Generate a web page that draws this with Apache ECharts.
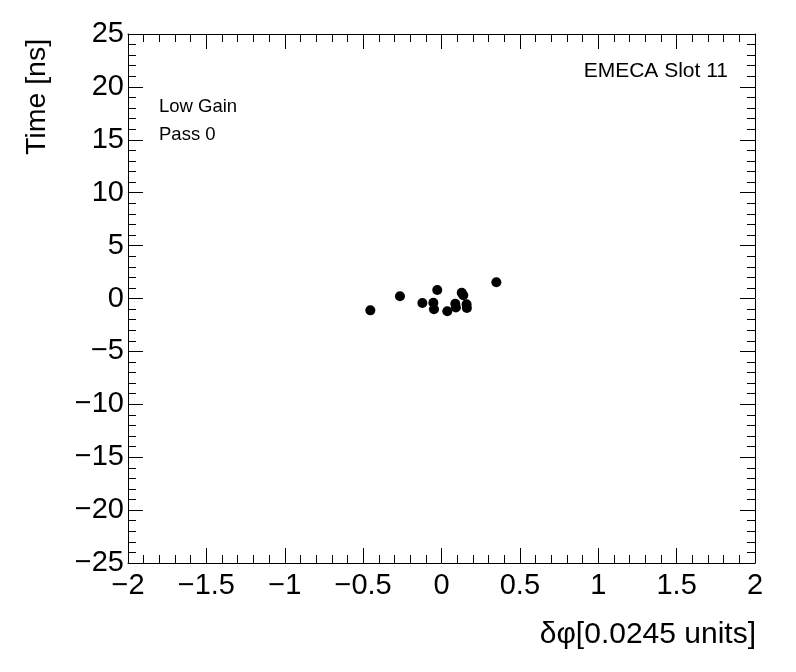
<!DOCTYPE html>
<html><head><meta charset="utf-8">
<script src="https://cdn.jsdelivr.net/npm/echarts@6/dist/echarts.min.js"></script>
<style>html,body{margin:0;padding:0;background:#fff}#c{width:796px;height:672px}</style>
</head><body><div id="c"></div>
<script>
const xValues = [-0.454, -0.265, -0.122, -0.052, -0.048, -0.027, 0.037, 0.088, 0.092, 0.129, 0.139, 0.160, 0.162, 0.350];
const yValues = [-1.12, 0.21, -0.43, -0.40, -1.02, 0.80, -1.21, -0.50, -0.85, 0.55, 0.30, -0.55, -0.90, 1.53];
const xRange = [-2, 2];
const yRange = [-25, 25];
const xTitle = 'δφ[0.0245 units]';
const yTitle = 'Time [ns]';
const labelTexts = ['EMECA Slot 11', 'Low Gain', 'Pass 0'];

const FONT = 'Liberation Sans';
const fmt = v => String(v).replace('-', '\u2212');
const pts = xValues.map((x, i) => [x, yValues[i]]);

function xAx(pos, showLabel) {
  return {
    type: 'value', position: pos, min: xRange[0], max: xRange[1], interval: 0.5,
    axisLine: { show: true, onZero: false, lineStyle: { color: '#000', width: 1 } },
    axisTick: { show: true, inside: true, length: 15, lineStyle: { color: '#000' } },
    minorTick: { show: true, splitNumber: 5, length: 8, lineStyle: { color: '#000' } },
    splitLine: { show: false }, minorSplitLine: { show: false },
    axisLabel: { show: showLabel, color: '#000', fontSize: 29, fontFamily: FONT, margin: 8, formatter: fmt }
  };
}
function yAx(pos, showLabel) {
  return {
    type: 'value', position: pos, min: yRange[0], max: yRange[1], interval: 5,
    axisLine: { show: true, onZero: false, lineStyle: { color: '#000', width: 1 } },
    axisTick: { show: true, inside: true, length: 15, lineStyle: { color: '#000' } },
    minorTick: { show: true, splitNumber: 5, length: 8, lineStyle: { color: '#000' } },
    splitLine: { show: false }, minorSplitLine: { show: false },
    axisLabel: { show: showLabel, color: '#000', fontSize: 29, fontFamily: FONT, margin: 4, formatter: fmt }
  };
}

const chart = echarts.init(document.getElementById('c'), null, { renderer: 'canvas' });
chart.setOption({
  animation: false,
  backgroundColor: '#fff',
  grid: { left: 128, right: 41, top: 34, bottom: 109 },
  xAxis: [xAx('bottom', true), xAx('top', false)],
  yAxis: [yAx('left', true), yAx('right', false)],
  series: [{
    type: 'scatter', xAxisIndex: 0, yAxisIndex: 0, data: pts,
    symbol: 'circle', symbolSize: 10, itemStyle: { color: '#000', opacity: 1 }
  }],
  graphic: [
    { type: 'text', right: 40, top: 620, style: { text: xTitle, font: '30px "' + FONT + '"', fill: '#000' } },
    { type: 'text', x: 23, y: 155, rotation: Math.PI / 2,
      style: { text: yTitle, font: '28.5px "' + FONT + '"', fill: '#000', align: 'left', verticalAlign: 'top' } },
    { type: 'text', right: 68, top: 61, style: { text: labelTexts[0], font: '21px "' + FONT + '"', fill: '#000' } },
    { type: 'text', left: 159, top: 97, style: { text: labelTexts[1], font: '18.5px "' + FONT + '"', fill: '#000' } },
    { type: 'text', left: 159, top: 125, style: { text: labelTexts[2], font: '18.5px "' + FONT + '"', fill: '#000' } }
  ]
});
</script></body></html>
